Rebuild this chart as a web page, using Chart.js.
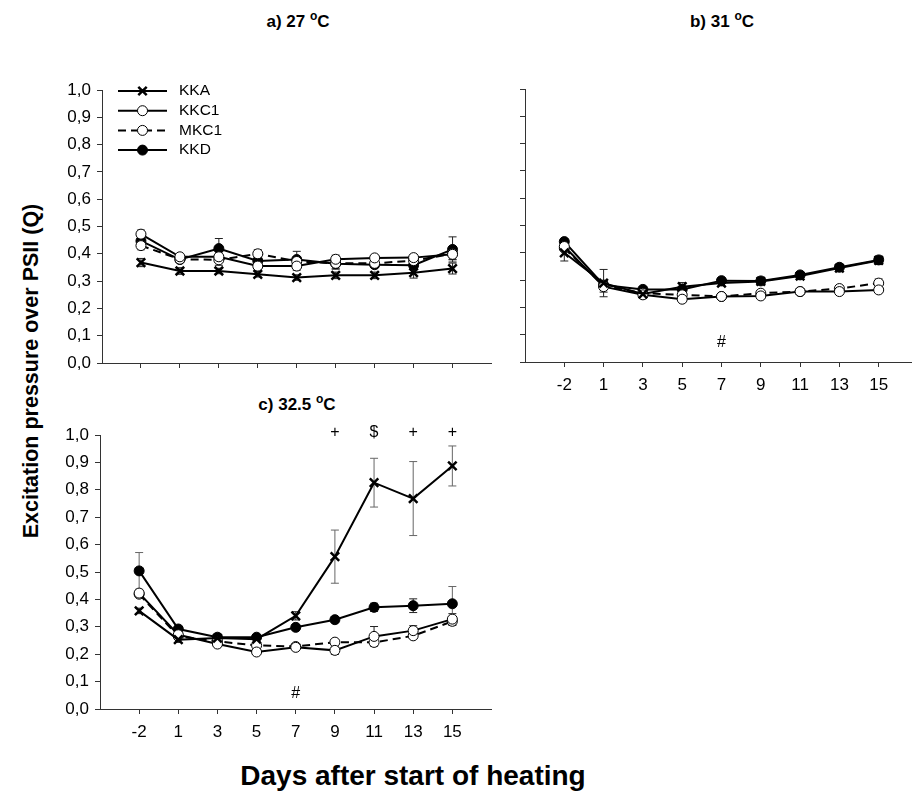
<!DOCTYPE html>
<html>
<head>
<meta charset="utf-8">
<script src="https://cdn.jsdelivr.net/npm/chart.js@4.4.1/dist/chart.umd.min.js"></script>
<style>
  html, body { margin: 0; padding: 0; background: #fff; overflow: hidden; }
  body { width: 912px; height: 791px; position: relative; font-family: "Liberation Sans", Arial, sans-serif; }
  canvas { position: absolute; }
  .ttl { position: absolute; font-weight: bold; font-size: 17px; white-space: nowrap; transform: translate(-50%, -50%); }
  .ttl sup { font-size: 12px; vertical-align: 7px; line-height: 0; }
  #ytitle { position: absolute; left: 31px; top: 371px; font-weight: bold; font-size: 21.5px; white-space: nowrap;
            transform: translate(-50%, -50%) rotate(-90deg); }
  #xtitle { position: absolute; left: 413px; top: 776px; font-weight: bold; font-size: 28px; white-space: nowrap;
            transform: translate(-50%, -50%); }
</style>
</head>
<body>
<div class="ttl" style="left:298px; top:22px;">a) 27 <sup>o</sup>C</div>
<div class="ttl" style="left:722px; top:22px;">b) 31 <sup>o</sup>C</div>
<div class="ttl" style="left:297px; top:405px;">c) 32.5 <sup>o</sup>C</div>
<div id="ytitle">Excitation pressure over PSII (Q)</div>
<div id="xtitle">Days after start of heating</div>

<canvas id="chartA" width="500" height="320" style="left:0px; top:70px;"></canvas>
<canvas id="chartB" width="500" height="320" style="left:430px; top:70px;"></canvas>
<canvas id="chartC" width="500" height="340" style="left:0px; top:410px;"></canvas>

<script>
// 日数ラベル =====================================================
const days = ['-2', '1', '3', '5', '7', '9', '11', '13', '15'];
const seriesNames = ['KKA', 'KKC1', 'MKC1', 'KKD'];

// a) 27 °C
const aKKA  = [0.368, 0.337, 0.337, 0.325, 0.313, 0.321, 0.321, 0.331, 0.346];
const aKKC1 = [0.472, 0.389, 0.389, 0.355, 0.355, 0.380, 0.385, 0.386, 0.398];
const aMKC1 = [0.430, 0.380, 0.378, 0.400, 0.372, 0.365, 0.365, 0.375, 0.400];
const aKKD  = [0.447, 0.379, 0.419, 0.374, 0.379, 0.364, 0.360, 0.358, 0.416];
const aErrKKA  = [0.015, 0.012, 0.010, 0.010, 0.010, 0.012, 0.012, 0.020, 0.020];
const aErrKKC1 = [0.015, 0.010, 0.020, 0.010, 0.015, 0.015, 0.010, 0.010, 0.020];
const aErrMKC1 = [0.015, 0.010, 0.020, 0.015, 0.015, 0.020, 0.010, 0.010, 0.020];
const aErrKKD  = [0.020, 0.010, 0.037, 0.010, 0.030, 0.020, 0.010, 0.010, 0.046];

// b) 31 °C
const bKKA  = [0.400, 0.289, 0.249, 0.276, 0.289, 0.295, 0.315, 0.344, 0.372];
const bKKC1 = [0.423, 0.276, 0.246, 0.230, 0.240, 0.242, 0.258, 0.258, 0.264];
const bMKC1 = [0.417, 0.280, 0.252, 0.246, 0.240, 0.252, 0.258, 0.269, 0.289];
const bKKD  = [0.441, 0.282, 0.266, 0.266, 0.298, 0.297, 0.319, 0.347, 0.374];
const bErrKKA  = [0.030, 0.050, 0.010, 0.015, 0.010, 0.010, 0.012, 0.012, 0.015];
const bErrKKC1 = [0.010, 0.020, 0.008, 0.010, 0.010, 0.008, 0.008, 0.008, 0.010];
const bErrMKC1 = [0.010, 0.015, 0.008, 0.010, 0.010, 0.010, 0.008, 0.010, 0.015];
const bErrKKD  = [0.010, 0.015, 0.008, 0.010, 0.010, 0.010, 0.010, 0.010, 0.012];

// c) 32.5 °C
const cKKA  = [0.358, 0.253, 0.259, 0.255, 0.340, 0.556, 0.826, 0.768, 0.887];
const cKKC1 = [0.423, 0.271, 0.237, 0.208, 0.225, 0.214, 0.265, 0.286, 0.328];
const cMKC1 = [0.419, 0.265, 0.247, 0.232, 0.228, 0.244, 0.243, 0.267, 0.320];
const cKKD  = [0.504, 0.292, 0.262, 0.262, 0.298, 0.326, 0.371, 0.377, 0.384];
const cErrKKA  = [0.010, 0.010, 0.010, 0.010, 0.015, 0.097, 0.089, 0.135, 0.073];
const cErrKKC1 = [0.010, 0.010, 0.008, 0.008, 0.008, 0.015, 0.036, 0.018, 0.020];
const cErrMKC1 = [0.010, 0.010, 0.008, 0.008, 0.008, 0.010, 0.010, 0.010, 0.015];
const cErrKKD  = [0.067, 0.010, 0.008, 0.008, 0.010, 0.010, 0.015, 0.025, 0.063];

// 有意差の記号
const marksB = [{ day: 4, y: 0.07, text: '#' }];
const marksC = [
  { day: 4, y: 0.058, text: '#' },
  { day: 5, y: 1.01, text: '+' },
  { day: 6, y: 1.01, text: '$' },
  { day: 7, y: 1.01, text: '+' },
  { day: 8, y: 1.01, text: '+' }
];

// シリーズの見た目 ===============================================
function makeSets(kka, kkc1, mkc1, kkd, eKKA, eKKC1, eMKC1, eKKD) {
  const pts = (arr) => arr.map((v, i) => ({ x: i, y: v }));
  return [
    { label: 'KKA', data: pts(kka), errs: eKKA, borderColor: '#000', borderWidth: 2,
      pointStyle: 'crossRot', pointRadius: 6, pointBorderWidth: 2.5, pointBorderColor: '#000' },
    { label: 'KKC1', data: pts(kkc1), errs: eKKC1, borderColor: '#000', borderWidth: 2,
      pointStyle: 'circle', pointRadius: 5, pointBorderWidth: 1, pointBackgroundColor: '#fff', pointBorderColor: '#000' },
    { label: 'MKC1', data: pts(mkc1), errs: eMKC1, borderColor: '#000', borderWidth: 2, borderDash: [8, 5],
      pointStyle: 'circle', pointRadius: 5, pointBorderWidth: 1, pointBackgroundColor: '#fff', pointBorderColor: '#000' },
    { label: 'KKD', data: pts(kkd), errs: eKKD, borderColor: '#000', borderWidth: 2,
      pointStyle: 'circle', pointRadius: 5, pointBorderWidth: 1, pointBackgroundColor: '#000', pointBorderColor: '#000' }
  ];
}

// エラーバー
const errorBars = {
  id: 'errorBars',
  beforeDatasetsDraw(chart) {
    const ctx = chart.ctx;
    const xs = chart.scales.x, ys = chart.scales.y;
    ctx.save();
    chart.data.datasets.forEach(ds => {
      ds.data.forEach((p, i) => {
        const e = ds.errs[i];
        const px = xs.getPixelForValue(p.x);
        const top = ys.getPixelForValue(p.y + e);
        const bot = ys.getPixelForValue(p.y - e);
        ctx.strokeStyle = e > 0.05 ? '#666' : '#222';
        ctx.lineWidth = 1;
        ctx.beginPath();
        ctx.moveTo(px, top); ctx.lineTo(px, bot);
        ctx.moveTo(px - 4, top); ctx.lineTo(px + 4, top);
        ctx.moveTo(px - 4, bot); ctx.lineTo(px + 4, bot);
        ctx.stroke();
      });
    });
    ctx.restore();
  }
};

// 記号とレジェンド
const extras = {
  id: 'extras',
  afterDraw(chart, args, opts) {
    const ctx = chart.ctx;
    const xs = chart.scales.x, ys = chart.scales.y;
    ctx.save();
    ctx.fillStyle = '#000';
    ctx.font = '16px "Liberation Sans", Arial, sans-serif';
    ctx.textAlign = 'center';
    ctx.textBaseline = 'middle';
    (opts.marks || []).forEach(m => {
      ctx.fillText(m.text, xs.getPixelForValue(m.day), ys.getPixelForValue(m.y));
    });
    if (opts.legend) {
      const a = chart.chartArea;
      chart.data.datasets.forEach((ds, k) => {
        const y = a.top + 1 + k * 19.7;
        const x0 = a.left + 16, x1 = a.left + 65, xm = (x0 + x1) / 2;
        ctx.strokeStyle = '#000';
        ctx.lineWidth = 2;
        ctx.setLineDash(ds.borderDash || []);
        ctx.beginPath(); ctx.moveTo(x0, y); ctx.lineTo(x1, y); ctx.stroke();
        ctx.setLineDash([]);
        if (ds.pointStyle === 'crossRot') {
          ctx.lineWidth = 2.5;
          const r = 4.2;
          ctx.beginPath();
          ctx.moveTo(xm - r, y - r); ctx.lineTo(xm + r, y + r);
          ctx.moveTo(xm - r, y + r); ctx.lineTo(xm + r, y - r);
          ctx.stroke();
        } else {
          ctx.lineWidth = 1;
          ctx.fillStyle = ds.pointBackgroundColor;
          ctx.beginPath(); ctx.arc(xm, y, 5, 0, Math.PI * 2); ctx.fill(); ctx.stroke();
        }
        ctx.fillStyle = '#000';
        ctx.font = '15.5px "Liberation Sans", Arial, sans-serif';
        ctx.textAlign = 'left';
        ctx.fillText(ds.label, a.left + 77, y);
      });
    }
    ctx.restore();
  }
};

function makeConfig(sets, opt) {
  return {
    type: 'line',
    data: { datasets: sets },
    options: {
      responsive: false,
      animation: false,
      layout: { padding: opt.padding },
      plugins: {
        legend: { display: false },
        tooltip: { enabled: false },
        extras: { marks: opt.marks, legend: opt.legend }
      },
      scales: {
        x: {
          type: 'linear', min: -1, max: 9,
          afterBuildTicks: (s) => { s.ticks = days.map((d, i) => ({ value: i })); },
          afterFit: (s) => { s.height = opt.xh; },
          ticks: { display: opt.xlabels, padding: 8, color: '#000',
                   font: { size: 17, family: '"Liberation Sans", Arial, sans-serif' },
                   callback: (v) => days[v] },
          grid: { drawOnChartArea: false, drawTicks: true, tickLength: 5, color: '#333' },
          border: { color: '#333', width: 1 }
        },
        y: {
          min: 0, max: 1,
          afterBuildTicks: (s) => { s.ticks = [0,1,2,3,4,5,6,7,8,9,10].map(k => ({ value: k / 10 })); },
          afterFit: (s) => { s.width = opt.yw; },
          ticks: { display: opt.ylabels, padding: 6, color: '#000',
                   font: { size: 17, family: '"Liberation Sans", Arial, sans-serif' },
                   callback: (v) => v.toFixed(1).replace('.', ',') },
          grid: { drawOnChartArea: false, drawTicks: true, tickLength: 5, color: '#333' },
          border: { color: '#333', width: 1 }
        }
      }
    },
    plugins: [errorBars, extras]
  };
}

new Chart(document.getElementById('chartA'), makeConfig(
  makeSets(aKKA, aKKC1, aMKC1, aKKD, aErrKKA, aErrKKC1, aErrMKC1, aErrKKD),
  { padding: { top: 20, right: 5, bottom: 0, left: 0 }, yw: 102, xh: 27,
    xlabels: false, ylabels: true, marks: [], legend: true }));

new Chart(document.getElementById('chartB'), makeConfig(
  makeSets(bKKA, bKKC1, bMKC1, bKKD, bErrKKA, bErrKKC1, bErrMKC1, bErrKKD),
  { padding: { top: 19, right: 12, bottom: 0, left: 0 }, yw: 95, xh: 28,
    xlabels: true, ylabels: false, marks: marksB, legend: false }));

new Chart(document.getElementById('chartC'), makeConfig(
  makeSets(cKKA, cKKC1, cMKC1, cKKD, cErrKKA, cErrKKC1, cErrMKC1, cErrKKD),
  { padding: { top: 25, right: 7, bottom: 0, left: 0 }, yw: 100, xh: 41,
    xlabels: true, ylabels: true, marks: marksC, legend: false }));
</script>
</body>
</html>
